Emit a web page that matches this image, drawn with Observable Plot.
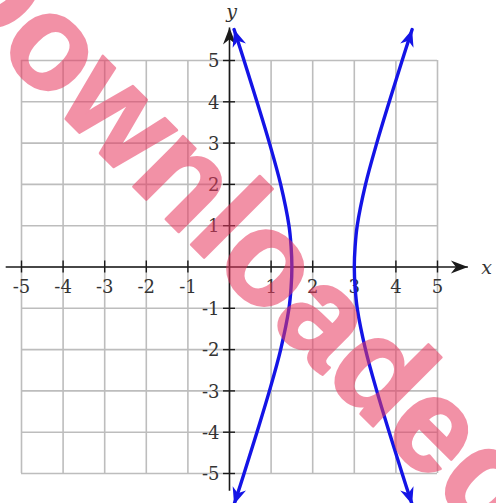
<!DOCTYPE html>
<html>
<head>
<meta charset="utf-8">
<script src="https://cdn.jsdelivr.net/npm/d3@7"></script>
<script src="https://cdn.jsdelivr.net/npm/@observablehq/plot@0.6"></script>
<style>
  html, body { margin: 0; padding: 0; background: #fff; overflow: hidden; }
</style>
</head>
<body>
<div id="chart"></div>
<script>
// Hyperbola opening left/right: points on each branch at fixed heights
const branchY = [5.75, 5, 4, 3, 2, 1, 0.5, 0, -0.5, -1, -2, -3, -4, -5, -5.75];
const leftX   = [0.11, 0.35, 0.66, 0.96, 1.23, 1.43, 1.48, 1.5, 1.48, 1.43, 1.23, 0.96, 0.66, 0.35, 0.11];
const rightX  = [4.39, 4.15, 3.84, 3.54, 3.27, 3.07, 3.02, 3.0, 3.02, 3.07, 3.27, 3.54, 3.84, 4.15, 4.39];

// Grid and axis ticks
const gridValues  = [-5, -4, -3, -2, -1, 0, 1, 2, 3, 4, 5];
const tickValues  = [-5, -4, -3, -2, -1, 1, 2, 3, 4, 5];
const xTickLabels = ["-5", "-4", "-3", "-2", "-1", "1", "2", "3", "4", "5"];
const yTickLabels = ["-5", "-4", "-3", "-2", "-1", "1", "2", "3", "4", "5"];
const watermark = "Downloaded";

const BLUE = "#1414e6";
const INK = "#1a1a1a";
const serif = "DejaVu Serif";

const branches = [
  ...branchY.map((y, i) => ({branch: "left", x: leftX[i], y})),
  ...branchY.map((y, i) => ({branch: "right", x: rightX[i], y}))
];
const xTicks = tickValues.map((v, i) => ({v, label: xTickLabels[i]}));
const yTicks = tickValues.map((v, i) => ({v, label: yTickLabels[i]}));

const chart = Plot.plot({
  width: 496,
  height: 503,
  x: {domain: [-5, 5], range: [21, 437], axis: null},
  y: {domain: [-5, 5], range: [473, 60], axis: null},
  style: {background: "#fff"},
  marks: [
    // light square grid
    Plot.ruleX(gridValues, {x: d => d, y1: -5, y2: 5, stroke: "#bdbdbd", strokeWidth: 1.6}),
    Plot.ruleY(gridValues, {y: d => d, x1: -5, x2: 5, stroke: "#bdbdbd", strokeWidth: 1.6}),
    // axes through the origin
    Plot.link([
      {x1: -5.38, y1: 0, x2: 5.73, y2: 0},
      {x1: 0, y1: -5.42, x2: 0, y2: 5.8}
    ], {x1: "x1", y1: "y1", x2: "x2", y2: "y2", stroke: INK, strokeWidth: 1.6}),
    // tick marks crossing each axis
    Plot.ruleX(tickValues, {x: d => d, y1: 0, y2: 0, insetTop: -6, insetBottom: -6, stroke: INK, strokeWidth: 1.4}),
    Plot.ruleY(tickValues, {y: d => d, x1: 0, x2: 0, insetLeft: -6, insetRight: -6, stroke: INK, strokeWidth: 1.4}),
    // tick labels
    Plot.text(xTicks, {x: "v", y: 0, text: "label", dy: 20, fontSize: 18, fontFamily: serif, fill: "#333"}),
    Plot.text(yTicks, {x: 0, y: "v", text: "label", textAnchor: "end", dx: -10, dy: 1, fontSize: 18, fontFamily: serif, fill: "#333"}),
    // axis names
    Plot.text(["x"], {x: 6.18, y: 0, text: d => d, dy: 1, fontSize: 19, fontStyle: "italic", fontFamily: serif, fill: "#333"}),
    Plot.text(["y"], {x: 0, y: 6.17, text: d => d, dx: 2, fontSize: 19, fontStyle: "italic", fontFamily: serif, fill: "#333"}),
    // the two branches
    Plot.line(branches, {x: "x", y: "y", z: "branch", curve: "catmull-rom", stroke: BLUE, strokeWidth: 3.4}),
    // semi-transparent watermark across the figure
    Plot.text([watermark], {
      x: -0.51, y: 0.13, text: d => d, rotate: 45,
      lineAnchor: "bottom", textAnchor: "middle",
      fontSize: 134, fontWeight: "bold", fontFamily: "Liberation Sans",
      fill: "#e8385f", stroke: "#e8385f", strokeWidth: 2.5, opacity: 0.55
    })
  ]
});

document.getElementById("chart").appendChild(chart);

// Dart-shaped arrowheads for the axes and the curve ends
const svg = d3.select(chart);
const defs = svg.insert("defs", ":first-child");
function head(id, color, len, half) {
  defs.append("marker")
    .attr("id", id)
    .attr("viewBox", `${-len - 1} ${-half - 1} ${len + 2} ${2 * half + 2}`)
    .attr("markerWidth", len + 2)
    .attr("markerHeight", 2 * half + 2)
    .attr("markerUnits", "userSpaceOnUse")
    .attr("orient", "auto-start-reverse")
    .attr("refX", 0)
    .attr("refY", 0)
    .append("path")
    .attr("d", `M0,0L${-len},${-half}L${-len * 0.7},0L${-len},${half}Z`)
    .attr("fill", color);
}
head("axis-head", INK, 17, 6.5);
head("curve-head", BLUE, 17, 7);

svg.selectAll('g[aria-label="link"] path').attr("marker-end", "url(#axis-head)");
svg.selectAll('g[aria-label="line"] path')
  .attr("marker-start", "url(#curve-head)")
  .attr("marker-end", "url(#curve-head)");
</script>
</body>
</html>
